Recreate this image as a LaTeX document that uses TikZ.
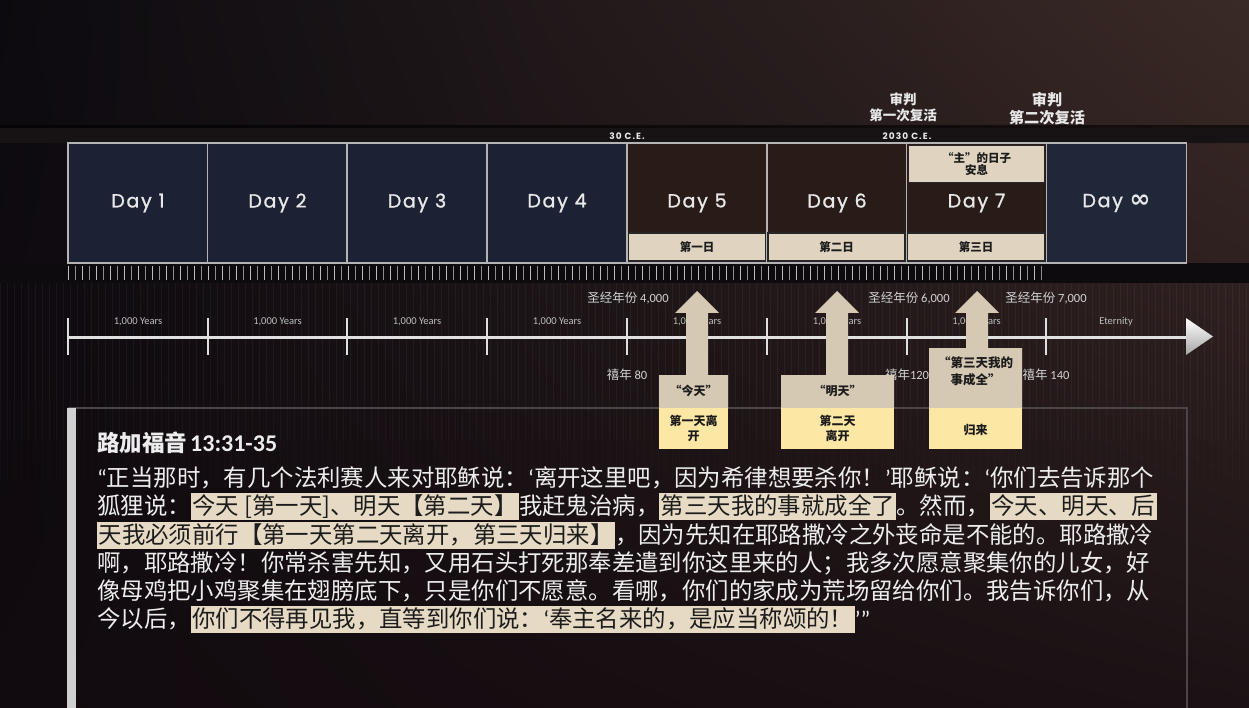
\documentclass[tikz,border=0pt]{standalone}
\usepackage{fontspec}
\setmainfont{Carlito}
\newfontfamily\cjk{Noto Sans CJK SC}
\newfontfamily\dayfont[LetterSpace=9,FakeBold=1.2]{Poppins}
\newfontfamily\cefont[LetterSpace=12]{Poppins}
\newfontfamily\symfont{DejaVu Sans}
\usetikzlibrary{calc,shadings}
\definecolor{bgtl}{HTML}{0C0A10}
\definecolor{bgtr}{HTML}{3A2A26}
\definecolor{bgbl}{HTML}{110A0E}
\definecolor{bgbr}{HTML}{1C1215}
\definecolor{bandc}{HTML}{171314}
\definecolor{rulerbg}{HTML}{0D0B0D}
\definecolor{navy}{HTML}{1C2233}
\definecolor{navyb}{HTML}{1F2739}
\definecolor{brownbox}{HTML}{291C18}
\definecolor{boxline}{HTML}{B4B4B4}
\definecolor{beige}{HTML}{E0D4C1}
\definecolor{arrowbeige}{HTML}{D6C9B4}
\definecolor{paleyellow}{HTML}{FCE7A4}
\definecolor{daytext}{HTML}{E8E8E8}
\definecolor{labeltext}{HTML}{D2D2D2}
\definecolor{yearstext}{HTML}{BDBDBD}
\definecolor{darktext}{HTML}{1C1C1C}
\definecolor{hlbg}{HTML}{E6DAC4}
\definecolor{bodytext}{HTML}{EDEDED}
\definecolor{framec}{HTML}{4C4548}
\definecolor{barc}{HTML}{D0D0D0}
\definecolor{tlc}{HTML}{E0E0E0}
\definecolor{tickc}{HTML}{8E8E8E}
\definecolor{tickb}{HTML}{BEBEBE}
\newcommand{\hlt}[1]{{\setlength{\fboxsep}{1.5pt}\colorbox{hlbg}{\color{darktext}\rule[-0.2em]{0pt}{1.05em}#1}}}
\newcommand{\qm}[1]{{\rmfamily #1}}
\begin{document}
\begin{tikzpicture}[x=1pt,y=-1pt,
  daybox/.style={draw=boxline,line width=1.4pt,minimum width=140pt,minimum height=120pt,inner sep=0pt,text=daytext,font=\dayfont\fontsize{19}{20}\selectfont},
  subbox/.style={fill=beige,draw=black!85,line width=1.2pt,minimum width=137pt,minimum height=28pt,inner sep=0pt,text=darktext,font=\cjk\bfseries\fontsize{11.5}{13}\selectfont},
  toplabel/.style={text=daytext,align=center,inner sep=0pt,font=\cjk\bfseries\fontsize{13.5}{16}\selectfont},
  celabel/.style={text=daytext,inner sep=0pt,font=\cefont\bfseries\fontsize{9}{10}\selectfont},
  years/.style={text=yearstext,inner sep=0pt,font=\fontsize{10.5}{12}\selectfont},
  biblab/.style={text=labeltext,inner sep=0pt,font=\fontsize{12.5}{14}\selectfont},
  arrowtext/.style={text=darktext,align=center,inner sep=0pt,font=\cjk\bfseries\fontsize{12}{15}\selectfont},
  body/.style={text=bodytext,inner sep=0pt,anchor=base west,font=\cjk\fontsize{23.4}{28}\selectfont},
  arrowbody/.style={fill=arrowbeige},
  arrowfoot/.style={fill=paleyellow}]
% background
\useasboundingbox (0,0) rectangle (1249,708);
\shade[upper left=bgtl,upper right=bgtr,lower left=bgbl,lower right=bgbr] (0,0) rectangle (1249,708);
\fill[black,opacity=0.6] (0,125.5) rectangle (1249,128);
\fill[bandc] (0,128) rectangle (1249,143);
\fill[rulerbg] (0,263) rectangle (1249,283);
\foreach \x in {0,7,...,1249} {
  \draw[white,opacity=0.045,line width=1pt] (\x,283) -- (\x,400);
  \draw[white,opacity=0.03,line width=1pt] (\x,400) -- (\x,440);
  \draw[white,opacity=0.015,line width=1pt] (\x,440) -- (\x,480);
}
% top labels
\node[toplabel] (judge1) at (903,99) {审判};
\node[toplabel] (res1) at (903,115) {第一次复活};
\node[toplabel,font=\cjk\bfseries\fontsize{15.2}{16}\selectfont] (judge2) at (1047,100) {审判};
\node[toplabel,font=\cjk\bfseries\fontsize{15.2}{16}\selectfont] (res2) at (1047,118) {第二次复活};
\node[celabel] (ce30) at (627,136) {30 C.E.};
\node[celabel] (ce2030) at (907,136) {2030 C.E.};
% day boxes
\node[daybox,fill=navy] (d1) at (138,203) {Day 1};
\node[daybox,fill=navy] (d2) at (277.5,203) {Day 2};
\node[daybox,fill=navy] (d3) at (417,203) {Day 3};
\node[daybox,fill=navy] (d4) at (557,203) {Day 4};
\node[daybox,fill=brownbox] (d5) at (697,203) {Day 5};
\node[daybox,fill=brownbox] (d6) at (837,203) {Day 6};
\node[daybox,fill=brownbox] (d7) at (976.5,203) {Day 7};
\node[daybox,fill=navyb] (dinf) at (1116.5,203) {Day {\symfont\bfseries\fontsize{25}{25}\selectfont ∞}};
\node[subbox] (s5) at (697,247) {第一日};
\node[subbox] (s6) at (836.5,247) {第二日};
\node[subbox] (s7) at (976,247) {第三日};
\node[subbox,minimum width=136pt,minimum height=37pt,align=center] (top7) at (976.5,164) {“主”的日子\\[-1pt]安息};
% ruler
\foreach \x [count=\i] in {68,75,...,1046} {
  \ifodd\i \draw[tickb,line width=1pt] (\x,266) -- (\x,280);
  \else \draw[tickc,line width=1pt] (\x,266) -- (\x,280); \fi
}
% timeline
\coordinate (tl0) at (68,337);
\coordinate (tlend) at (1192,337);
\draw[tlc,line width=3pt] (tl0) -- (tlend);
\shade[top color=white,bottom color=gray!70] (1186,318) -- (1213,336.5) -- (1186,355) -- cycle;
\foreach \x in {68,208,347,487,627,767,907,1046} \draw[tlc,line width=2.4pt] (\x,318) -- (\x,355);
\node[years] (y1) at (138,322) {1,000 Years};
\node[years] (y2) at (277.5,322) {1,000 Years};
\node[years] (y3) at (417,322) {1,000 Years};
\node[years] (y4) at (557,322) {1,000 Years};
\node[years] (y5) at (697,322) {1,000 Years};
\node[years] (y6) at (837,322) {1,000 Years};
\node[years] (y7) at (976.5,322) {1,000 Years};
\node[years] (yinf) at (1116,322) {Eternity};
\node[biblab] (b4) at (628,298) {{\cjk 圣经年份} 4,000};
\node[biblab] (b6) at (909,298) {{\cjk 圣经年份} 6,000};
\node[biblab] (b7) at (1046,298) {{\cjk 圣经年份} 7,000};
\node[biblab] (j80) at (627,375) {{\cjk 禧年} 80};
\node[biblab] (j120) at (907,375) {{\cjk 禧年}120};
\node[biblab] (j140) at (1046,375) {{\cjk 禧年} 140};
% text frame
\draw[framec,line width=1.2pt] (68,408) -- (1187,408) -- (1187,712);
\fill[barc] (67,408) rectangle (76,712);
% arrows
\fill[arrowbody] (659,375) -- (686,375) -- (686,313) -- (675,313) -- (697,291) -- (719,313) -- (708,313) -- (708,375) -- (728,375) -- (728,408) -- (659,408) -- cycle;
\fill[arrowfoot] (659,408) rectangle (728,449);
\fill[arrowbody] (781,375) -- (826,375) -- (826,313) -- (815,313) -- (837,291) -- (859,313) -- (848,313) -- (848,375) -- (894,375) -- (894,408) -- (781,408) -- cycle;
\fill[arrowfoot] (781,408) rectangle (894,449);
\fill[arrowbody] (929,348) -- (966,348) -- (966,313) -- (955,313) -- (977,291) -- (999,313) -- (988,313) -- (988,348) -- (1022,348) -- (1022,408) -- (929,408) -- cycle;
\fill[arrowfoot] (929,408) rectangle (1022,449);
\node[arrowtext] (a1q) at (693.5,391) {“今天”};
\node[arrowtext] (a1t) at (693.5,428) {第一天离\\开};
\node[arrowtext] (a2q) at (837.5,391) {“明天”};
\node[arrowtext] (a2t) at (837.5,428) {第二天\\离开};
\node[arrowtext,font=\cjk\bfseries\fontsize{12.5}{17}\selectfont] (a3q) at (975.5,371) {“第三天我的\\事成全”};
\node[arrowtext] (a3t) at (975.5,430) {归来};
% scripture
\node[anchor=base west,inner sep=0pt,text=bodytext] (title) at (97,451) {{\cjk\bfseries\fontsize{22.5}{24}\selectfont 路加福音}\hspace{0.3em}{\bfseries\fontsize{24}{24}\selectfont 13:31-35}};
\node[body] (l1) at (97,486) {\qm{“}正当那时，有几个法利赛人来对耶稣说：\qm{‘}离开这里吧，因为希律想要杀你！\qm{’}耶稣说：\qm{‘}你们去告诉那个};
\node[body] (l2) at (97,514) {狐狸说：\hlt{今天 [第一天]、明天【第二天】}我赶鬼治病，\hlt{第三天我的事就成全了}。然而，\hlt{今天、明天、后}};
\node[body] (l3) at (97,543) {\hlt{天我必须前行【第一天第二天离开，第三天归来】}，因为先知在耶路撒冷之外丧命是不能的。耶路撒冷};
\node[body] (l4) at (97,571) {啊，耶路撒冷！你常杀害先知，又用石头打死那奉差遣到你这里来的人；我多次愿意聚集你的儿女，好};
\node[body] (l5) at (97,599) {像母鸡把小鸡聚集在翅膀底下，只是你们不愿意。看哪，你们的家成为荒场留给你们。我告诉你们，从};
\node[body] (l6) at (97,627) {今以后，\hlt{你们不得再见我，直等到你们说：\qm{‘}奉主名来的，是应当称颂的！}\qm{’”}};
\end{tikzpicture}
\end{document}
